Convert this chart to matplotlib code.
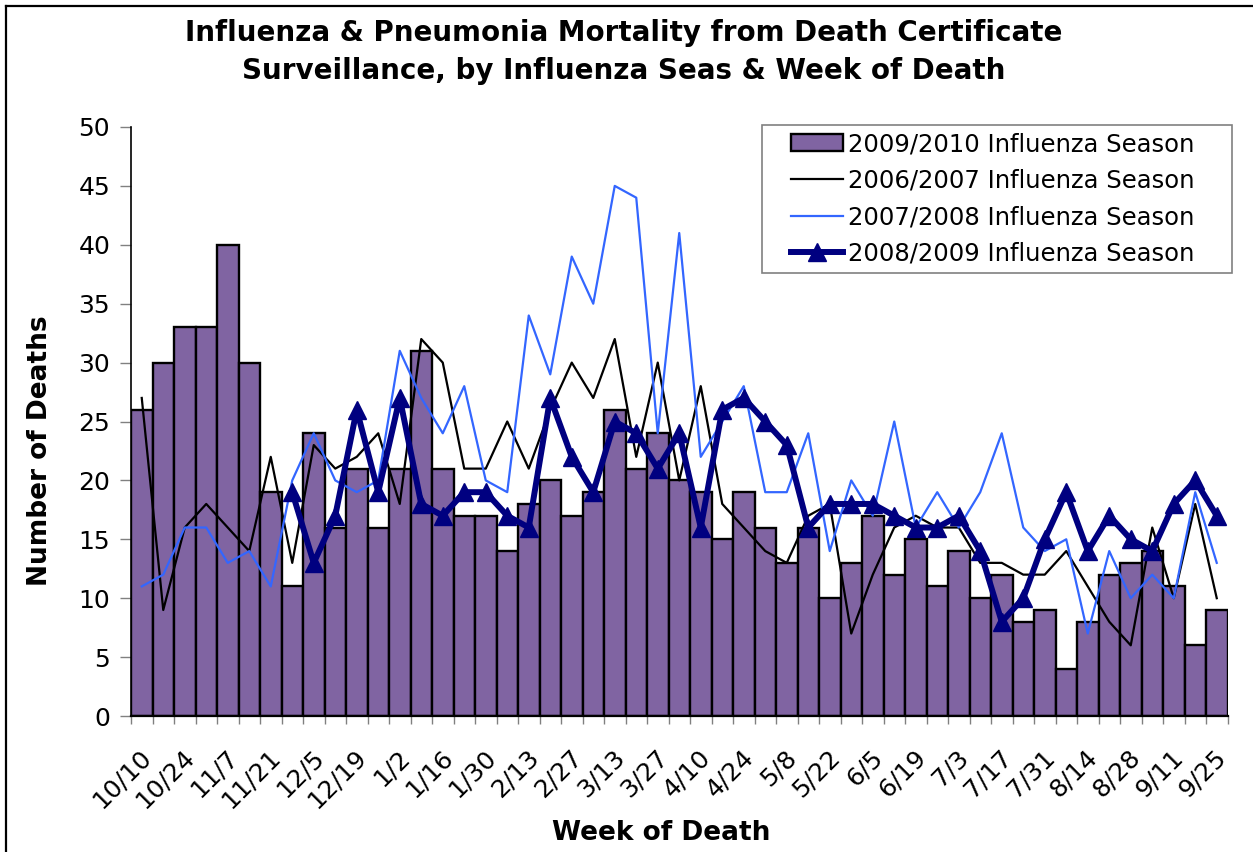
import numpy as np
import matplotlib
matplotlib.use('Agg')
from matplotlib import pyplot as plt
from matplotlib import transforms
from matplotlib.lines import Line2D
from matplotlib.patches import Rectangle

# week of death (2009/2010 season, weekly)
weeks = ['10/10', '10/17', '10/24', '10/31', '11/7', '11/14', '11/21', '11/28',
         '12/5', '12/12', '12/19', '12/26', '1/2', '1/9', '1/16', '1/23', '1/30',
         '2/6', '2/13', '2/20', '2/27', '3/6', '3/13', '3/20', '3/27', '4/3',
         '4/10', '4/17', '4/24', '5/1', '5/8', '5/15', '5/22', '5/29', '6/5',
         '6/12', '6/19', '6/26', '7/3', '7/10', '7/17', '7/24', '7/31', '8/7',
         '8/14', '8/21', '8/28', '9/4', '9/11', '9/18', '9/25']

season_0910 = [26, 30, 33, 33, 40, 30, 19, 11, 24, 16, 21, 16, 21, 31, 21, 17, 17,
               14, 18, 20, 17, 19, 26, 21, 24, 20, 19, 15, 19, 16, 13, 16, 10, 13,
               17, 12, 15, 11, 14, 10, 12, 8, 9, 4, 8, 12, 13, 14, 11, 6, 9]

season_0607 = [27, 9, 16, 18, 16, 14, 22, 13, 23, 21, 22, 24, 18, 32, 30, 21, 21,
               25, 21, 26, 30, 27, 32, 22, 30, 20, 28, 18, 16, 14, 13, 17, 18, 7,
               12, 16, 17, 16, 16, 13, 13, 12, 12, 14, 11, 8, 6, 16, 10, 18, 10]

season_0708 = [11, 12, 16, 16, 13, 14, 11, 20, 24, 20, 19, 20, 31, 27, 24, 28, 20,
               19, 34, 29, 39, 35, 45, 44, 24, 41, 22, 25, 28, 19, 19, 24, 14, 20,
               17, 25, 16, 19, 16, 19, 24, 16, 14, 15, 7, 14, 10, 12, 10, 19, 13]

# 2008/2009 season has no data for the first 7 weeks
season_0809 = [None, None, None, None, None, None, None, 19, 13, 17, 26, 19, 27,
               18, 17, 19, 19, 17, 16, 27, 22, 19, 25, 24, 21, 24, 16, 26, 27, 25,
               23, 16, 18, 18, 18, 17, 16, 16, 17, 14, 8, 10, 15, 19, 14, 17, 15,
               14, 18, 20, 17]

W, H = 1253, 852
fig = plt.figure(figsize=(W / 100, H / 100), dpi=100)
ax = fig.add_axes([131 / W, 1 - 716 / H, 1096.5 / W, 589 / H])

x = np.arange(len(weeks))
y0809 = np.array([np.nan if v is None else v for v in season_0809], dtype=float)

b = ax.bar(x, season_0910, width=1.0, color='#8064A2', edgecolor='black',
           linewidth=1.7, zorder=2, label='2009/2010 Influenza Season')
l1, = ax.plot(x, season_0607, color='black', lw=1.6, zorder=3,
              label='2006/2007 Influenza Season')
l2, = ax.plot(x, season_0708, color='#3366FF', lw=1.6, zorder=3,
              label='2007/2008 Influenza Season')
l3, = ax.plot(x, y0809, color='#000080', lw=4.3, marker='^', markersize=13,
              zorder=4, label='2008/2009 Influenza Season')

ax.set_xlim(-0.5, len(weeks) - 0.5)
ax.set_ylim(0, 50)
ax.set_yticks(np.arange(0, 51, 5))
ax.tick_params(axis='y', length=8, width=1, color='#808080', pad=7, labelsize=18)

# labels every other week, tick marks between categories
ax.set_xticks(x[::2])
ax.set_xticklabels(weeks[::2], rotation=45, ha='right', va='center',
                   rotation_mode='anchor', fontsize=18)
ax.tick_params(axis='x', which='major', length=0, pad=27)
shift = transforms.ScaledTranslation(6 / 100, 0, fig.dpi_scale_trans)
for lab in ax.get_xticklabels():
    lab.set_transform(lab.get_transform() + shift)
ax.set_xticks(np.arange(-0.5, len(weeks), 1.0), minor=True)
ax.tick_params(axis='x', which='minor', length=6, width=1, color='#808080')

for s in ['top', 'right']:
    ax.spines[s].set_visible(False)
ax.spines['left'].set_linewidth(1.2)
ax.spines['bottom'].set_linewidth(1.6)

fig.text(40 / W, 1 - 451 / H, 'Number of Deaths', fontsize=19, fontweight='bold',
         rotation=90, ha='center', va='center')
fig.text(661 / W, 1 - 833 / H, 'Week of Death', fontsize=19, fontweight='bold',
         ha='center', va='center')

fig.text(624 / W, 1 - 33 / H, 'Influenza & Pneumonia Mortality from Death Certificate',
         fontsize=20, fontweight='bold', ha='center', va='center')
fig.text(624 / W, 1 - 71 / H, 'Surveillance, by Influenza Seas & Week of Death',
         fontsize=20, fontweight='bold', ha='center', va='center')

# legend box
box = Rectangle(((762 - 131) / 1096.5, (716 - 273) / 589), 470 / 1096.5, 148 / 589,
                transform=ax.transAxes, facecolor='white', edgecolor='#808080',
                lw=1.2, zorder=5, clip_on=False)
ax.add_patch(box)
leg = ax.legend([b, l1, l2, l3], [b.get_label(), l1.get_label(), l2.get_label(), l3.get_label()],
                loc='upper left', bbox_to_anchor=((791 - 131) / 1096.5, (716 - 132) / 589),
                borderaxespad=0, borderpad=0, frameon=False, fontsize=17.5,
                handlelength=2.15, handletextpad=0.2, labelspacing=0.52)
leg.set_zorder(6)

# outer chart frame
fig.add_artist(Line2D([6 / W, 6 / W], [0, 1 - 6 / H], color='black', lw=1.6))
fig.add_artist(Line2D([6 / W, 1], [1 - 6 / H, 1 - 6 / H], color='black', lw=1.6))

fig.savefig('out.png', dpi=100)
